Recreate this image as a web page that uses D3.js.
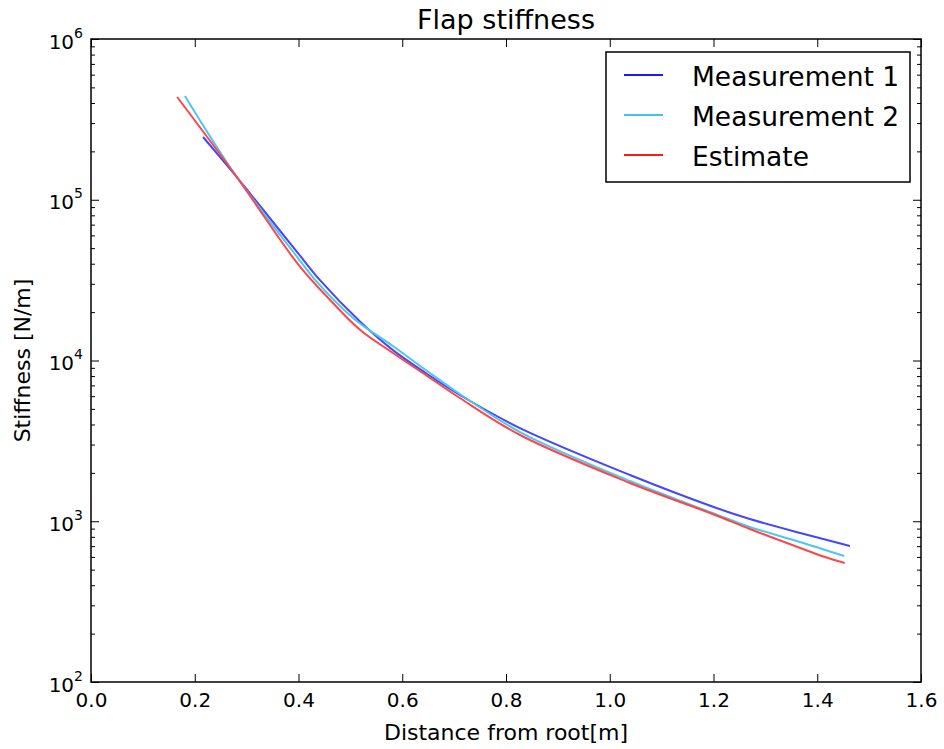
<!DOCTYPE html>
<html>
<head>
<meta charset="utf-8">
<script src="https://cdn.jsdelivr.net/npm/d3@7"></script>
<style>
  body { margin: 0; background: #fff; }
  svg text { font-family: "DejaVu Sans", sans-serif; fill: #000; }
</style>
</head>
<body>
<svg id="chart" width="944" height="749"></svg>
<script>
// values
var m1X = [0.216, 0.281, 0.312, 0.399, 0.441, 0.519, 0.582, 0.648, 0.711, 0.827, 1.039, 1.203, 1.270, 1.367, 1.463];
var m1Y = [245700, 138500, 104000, 46600, 31700, 17400, 11600, 8240, 6100, 3800, 1940, 1218, 1033, 845, 702];

var m2X = [0.181, 0.281, 0.399, 0.432, 0.505, 0.582, 0.648, 0.711, 0.827, 1.039, 1.203, 1.270, 1.367, 1.452];
var m2Y = [442000, 138500, 43400, 31700, 18400, 12300, 8600, 6190, 3590, 1780, 1110, 921, 743, 608];

var estX = [0.166, 0.281, 0.399, 0.461, 0.519, 0.582, 0.648, 0.711, 0.827, 1.039, 1.203, 1.270, 1.367, 1.415, 1.453];
var estY = [435700, 138500, 39800, 23780, 15480, 11140, 8010, 5845, 3440, 1730, 1094, 895, 682, 599, 550];

var seriesNames = ["Measurement 1", "Measurement 2", "Estimate"];
var lineColors = ["#4646ff", "#4ec6f2", "#ff4646"];
var legendColors = ["#1a1aff", "#3fc3f5", "#ff1a1a"];

var xTicks = [0.0, 0.2, 0.4, 0.6, 0.8, 1.0, 1.2, 1.4, 1.6];
var yExponents = [2, 3, 4, 5, 6];

var svg = d3.select("svg#chart"),
    margin = {left: 91, top: 39, right: 23, bottom: 67},
    width = +svg.attr("width") - margin.left - margin.right,
    height = +svg.attr("height") - margin.top - margin.bottom;

var x = d3.scaleLinear().domain([0, 1.6]).range([0, width]);
var y = d3.scaleLog().domain([1e2, 1e6]).range([height, 0]);

var yMajor = yExponents.map(function(e) { return Math.pow(10, e); });
var yMinor = [];
yExponents.slice(0, -1).forEach(function(e) {
  for (var k = 2; k < 10; k++) yMinor.push(k * Math.pow(10, e));
});

var g = svg.append("g").attr("transform", "translate(" + margin.left + "," + margin.top + ")");

// curves
var data = [
  m1X.map(function(v, i) { return [v, m1Y[i]]; }),
  m2X.map(function(v, i) { return [v, m2Y[i]]; }),
  estX.map(function(v, i) { return [v, estY[i]]; })
];

var line = d3.line()
    .x(function(d) { return x(d[0]); })
    .y(function(d) { return y(d[1]); })
    .curve(d3.curveCatmullRom.alpha(0.5));

g.append("g").selectAll("path")
  .data(data)
  .enter().append("path")
    .attr("fill", "none")
    .attr("stroke", function(d, i) { return lineColors[i]; })
    .attr("stroke-width", 2)
    .attr("d", line);

// ticks, all pointing inward
function styleAxis(sel) {
  sel.select(".domain").remove();
  sel.selectAll("line").attr("stroke", "#000").attr("stroke-width", 1);
}

g.append("g")
  .attr("transform", "translate(0," + height + ")")
  .call(d3.axisBottom(x).tickValues(xTicks).tickSizeInner(-8).tickSizeOuter(0).tickPadding(11)
        .tickFormat(d3.format(".1f")))
  .call(styleAxis)
  .selectAll("text").attr("font-size", 20).attr("font-family", "DejaVu Sans");

g.append("g")
  .call(d3.axisTop(x).tickValues(xTicks).tickSizeInner(-8).tickSizeOuter(0).tickFormat(""))
  .call(styleAxis);

var yLeft = g.append("g")
  .call(d3.axisLeft(y).tickValues(yMajor).tickSizeInner(-8).tickSizeOuter(0).tickFormat(""))
  .call(styleAxis);

g.append("g")
  .call(d3.axisLeft(y).tickValues(yMinor).tickSizeInner(-4).tickSizeOuter(0).tickFormat(""))
  .call(styleAxis);

g.append("g")
  .attr("transform", "translate(" + width + ",0)")
  .call(d3.axisRight(y).tickValues(yMajor).tickSizeInner(-8).tickSizeOuter(0).tickFormat(""))
  .call(styleAxis);

g.append("g")
  .attr("transform", "translate(" + width + ",0)")
  .call(d3.axisRight(y).tickValues(yMinor).tickSizeInner(-4).tickSizeOuter(0).tickFormat(""))
  .call(styleAxis);

// 10^n labels with superscript
yLeft.selectAll(".tick").each(function(d) {
  var t = d3.select(this).select("text")
      .attr("x", -8).attr("dy", null).attr("y", 9)
      .attr("text-anchor", "end").attr("font-family", "DejaVu Sans");
  t.append("tspan").attr("font-size", 20).text("10");
  t.append("tspan").attr("font-size", 14).attr("dy", -11)
    .text(Math.round(Math.log10(d)));
});

// frame
g.append("rect")
  .attr("width", width).attr("height", height)
  .attr("fill", "none").attr("stroke", "#000").attr("stroke-width", 1.5);

// title and axis labels
svg.append("text")
  .attr("x", margin.left + width / 2).attr("y", 29)
  .attr("text-anchor", "middle").attr("font-size", 27)
  .text("Flap stiffness");

svg.append("text")
  .attr("x", margin.left + width / 2).attr("y", 740)
  .attr("text-anchor", "middle").attr("font-size", 22)
  .text("Distance from root[m]");

svg.append("text")
  .attr("transform", "translate(30," + (margin.top + height / 2) + ") rotate(-90)")
  .attr("text-anchor", "middle").attr("font-size", 22)
  .text("Stiffness [N/m]");

// legend
var legend = svg.append("g").attr("transform", "translate(606,52)");
legend.append("rect")
  .attr("width", 304).attr("height", 130)
  .attr("fill", "#fff").attr("stroke", "#000").attr("stroke-width", 1.5);

var item = legend.selectAll(".item")
  .data(seriesNames)
  .enter().append("g")
    .attr("class", "item")
    .attr("transform", function(d, i) { return "translate(0," + (23 + i * 40) + ")"; });

item.append("line")
  .attr("x1", 18).attr("x2", 57)
  .attr("stroke", function(d, i) { return legendColors[i]; })
  .attr("stroke-width", 2);

item.append("text")
  .attr("x", 86).attr("y", 11)
  .attr("font-size", 26.5)
  .text(function(d) { return d; });
</script>
</body>
</html>
